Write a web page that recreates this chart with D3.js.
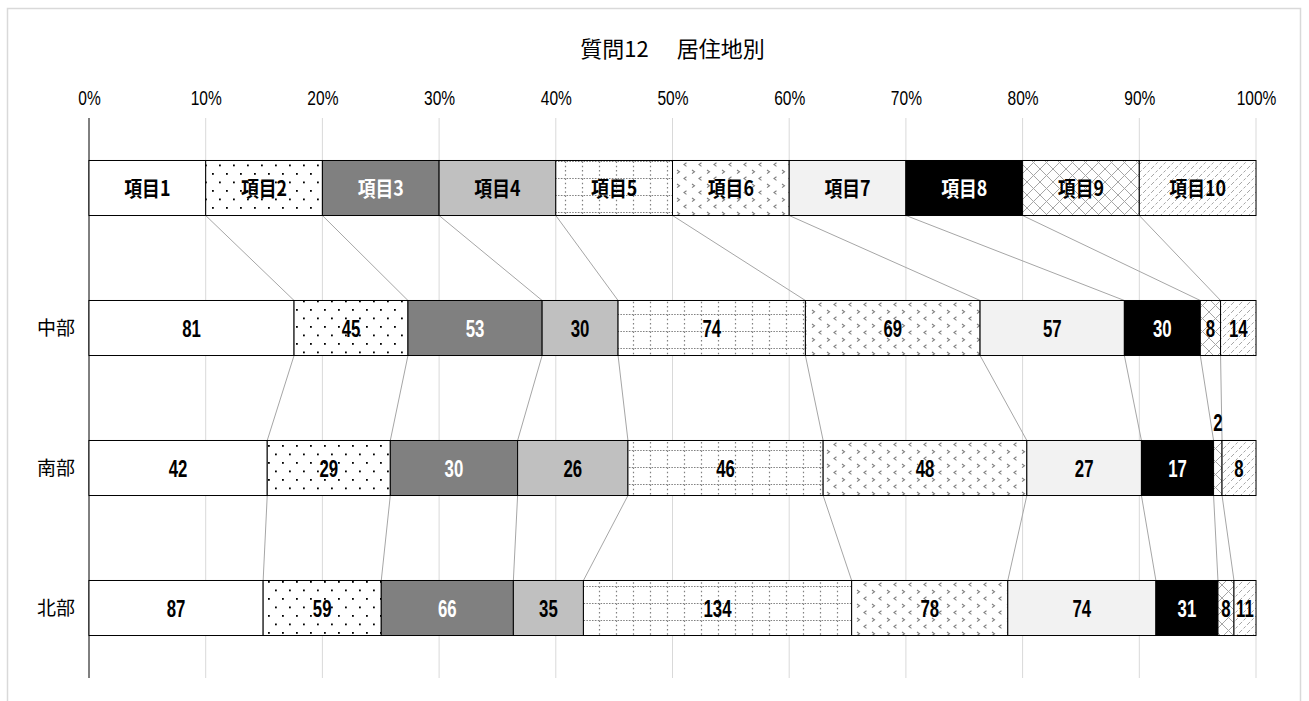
<!DOCTYPE html>
<html>
<head>
<meta charset="utf-8">
<script src="https://cdn.jsdelivr.net/npm/d3@7"></script>
<style>
  html, body { margin: 0; padding: 0; background: #fff; }
  svg { display: block; }
</style>
</head>
<body>
<svg id="chart" width="1309" height="701"></svg>
<script>
// Survey question 12, answers broken down by region of residence
const titleMain = "質問12";
const titleSub = "　居住地別";
const items = ["項目1", "項目2", "項目3", "項目4", "項目5", "項目6", "項目7", "項目8", "項目9", "項目10"];
const regions = ["中部", "南部", "北部"];
const chubu = [81, 45, 53, 30, 74, 69, 57, 30, 8, 14];
const nanbu = [42, 29, 30, 26, 46, 48, 27, 17, 2, 8];
const hokubu = [87, 59, 66, 35, 134, 78, 74, 31, 8, 11];
const tickLabels = ["0%", "10%", "20%", "30%", "40%", "50%", "60%", "70%", "80%", "90%", "100%"];

const seriesByRegion = [chubu, nanbu, hokubu];

const svg = d3.select("#chart");
const plot = { left: 89, right: 1256, top: 118, bottom: 678 };

const fontNum = "'Liberation Sans', Arial, 'DejaVu Sans', sans-serif";
const fontCJK = "'Noto Sans CJK JP', sans-serif";

// Text drawn horizontally condensed around its anchor point
function narrowText(g, tx, ty, str, opts) {
  return g.append("text")
    .attr("transform", `translate(${tx},${ty}) scale(${opts.sx},1)`)
    .attr("dy", "0.36em")
    .attr("text-anchor", "middle")
    .attr("font-family", opts.family)
    .attr("font-size", opts.size)
    .attr("font-weight", opts.weight || "normal")
    .attr("fill", opts.fill || "#000")
    .text(str);
}

// Outer chart frame
svg.append("rect")
  .attr("x", 7.5).attr("y", 8.5).attr("width", 1293).attr("height", 720)
  .attr("fill", "#fff").attr("stroke", "#d9d9d9").attr("stroke-width", 1.5);

// ---- fill patterns ----
const defs = svg.append("defs");
const grayPat = "#808080";

// item 2: staggered dots
const p2 = defs.append("pattern").attr("id", "pat2").attr("patternUnits", "userSpaceOnUse")
  .attr("width", 14).attr("height", 17);
p2.append("rect").attr("width", 14).attr("height", 17).attr("fill", "#fff");
p2.append("rect").attr("x", 2).attr("y", 3).attr("width", 1.8).attr("height", 1.8).attr("fill", "#000");
p2.append("rect").attr("x", 9).attr("y", 11.5).attr("width", 1.8).attr("height", 1.8).attr("fill", "#000");

// item 5: dotted grid
const p5 = defs.append("pattern").attr("id", "pat5").attr("patternUnits", "userSpaceOnUse")
  .attr("width", 17).attr("height", 17);
p5.append("rect").attr("width", 17).attr("height", 17).attr("fill", "#fff");
p5.append("line").attr("x1", 0).attr("x2", 17).attr("y1", 8.5).attr("y2", 8.5)
  .attr("stroke", grayPat).attr("stroke-width", 1.2).attr("stroke-dasharray", "1.5 1.3");
p5.append("line").attr("x1", 4.5).attr("x2", 4.5).attr("y1", 0).attr("y2", 17)
  .attr("stroke", grayPat).attr("stroke-width", 1.2).attr("stroke-dasharray", "1.5 2.75");

// item 6: small chevrons
const p6 = defs.append("pattern").attr("id", "pat6").attr("patternUnits", "userSpaceOnUse")
  .attr("width", 15).attr("height", 14);
p6.append("rect").attr("width", 15).attr("height", 14).attr("fill", "#fff");
p6.append("path").attr("d", "M2,2 L4.5,3.8 L2,5.6").attr("fill", "none").attr("stroke", grayPat).attr("stroke-width", 1.1);
p6.append("path").attr("d", "M11.5,8.8 L9,10.6 L11.5,12.4").attr("fill", "none").attr("stroke", grayPat).attr("stroke-width", 1.1);

// item 9: diagonal crosshatch
const p9 = defs.append("pattern").attr("id", "pat9").attr("patternUnits", "userSpaceOnUse")
  .attr("width", 13).attr("height", 13);
p9.append("rect").attr("width", 13).attr("height", 13).attr("fill", "#fff");
p9.append("path").attr("d", "M0,0 L13,13 M0,13 L13,0").attr("stroke", "#a6a6a6").attr("stroke-width", 1);

// item 10: dashed forward slashes
const p10 = defs.append("pattern").attr("id", "pat10").attr("patternUnits", "userSpaceOnUse")
  .attr("width", 8).attr("height", 8);
p10.append("rect").attr("width", 8).attr("height", 8).attr("fill", "#fff");
p10.append("path").attr("d", "M0,8 L8,0").attr("stroke", "#a6a6a6").attr("stroke-width", 1)
  .attr("stroke-dasharray", "3 2");

const fills = ["#ffffff", "url(#pat2)", "#808080", "#c0c0c0", "url(#pat5)",
               "url(#pat6)", "#f2f2f2", "#000000", "url(#pat9)", "url(#pat10)"];
const textColors = ["#000", "#000", "#fff", "#000", "#000", "#000", "#000", "#fff", "#000", "#000"];

// ---- scales ----
const x = d3.scaleLinear().domain([0, 1]).range([plot.left, plot.right]);
const rows = ["legend"].concat(regions);
const y = d3.scaleBand().domain(rows).range([plot.top, plot.bottom])
  .paddingInner(0.607).paddingOuter(0.3035);

// ---- gridlines ----
svg.append("g").selectAll("line")
  .data(d3.range(1, 11).map(i => i / 10))
  .join("line")
  .attr("x1", d => x(d)).attr("x2", d => x(d))
  .attr("y1", plot.top).attr("y2", plot.bottom)
  .attr("stroke", "#d9d9d9").attr("stroke-width", 1);

// ---- top percentage axis ----
const xAxis = d3.axisTop(x).tickValues(d3.range(0, 11).map(i => i / 10))
  .tickFormat((d, i) => tickLabels[i]).tickSize(0).tickPadding(0);
const axisG = svg.append("g").attr("transform", "translate(0,97)").call(xAxis);
axisG.select(".domain").remove();
axisG.selectAll(".tick text")
  .attr("y", 0).attr("dy", "0.36em")
  .attr("transform", "scale(0.74,1)")
  .attr("font-family", fontNum).attr("font-size", 21).attr("fill", "#000");

// vertical category axis line
svg.append("line")
  .attr("x1", plot.left).attr("x2", plot.left)
  .attr("y1", plot.top).attr("y2", plot.bottom)
  .attr("stroke", "#000").attr("stroke-width", 1);

// ---- stacked row data (shares of each row total) ----
function stackRow(values) {
  const total = d3.sum(values);
  let acc = 0;
  return values.map((v, i) => {
    const s = { i, v, x0: acc / total };
    acc += v;
    s.x1 = acc / total;
    return s;
  });
}
const legendValues = items.map(() => 1);
const rowData = [
  { key: "legend", segs: stackRow(legendValues), labels: items },
  ...regions.map((r, k) => ({ key: r, segs: stackRow(seriesByRegion[k]), labels: null }))
];

// ---- series connector lines between adjacent rows ----
const connG = svg.append("g");
for (let r = 0; r < rowData.length - 1; r++) {
  const a = rowData[r], b = rowData[r + 1];
  for (let k = 0; k < items.length - 1; k++) {
    connG.append("line")
      .attr("x1", x(a.segs[k].x1)).attr("y1", y(a.key) + y.bandwidth())
      .attr("x2", x(b.segs[k].x1)).attr("y2", y(b.key))
      .attr("stroke", "#a6a6a6").attr("stroke-width", 1);
  }
}

// ---- bars ----
rowData.forEach(row => {
  const g = svg.append("g");
  g.selectAll("rect")
    .data(row.segs)
    .join("rect")
    .attr("x", d => x(d.x0)).attr("y", y(row.key))
    .attr("width", d => x(d.x1) - x(d.x0)).attr("height", y.bandwidth())
    .attr("fill", d => fills[d.i])
    .attr("stroke", "#000").attr("stroke-width", 1);

  const isLegend = row.labels !== null;
  row.segs.forEach(d => {
    const w = x(d.x1) - x(d.x0);
    const cx = (x(d.x0) + x(d.x1)) / 2;
    const small = !isLegend && w < 12;
    const cy = small ? y(row.key) - 18 : y(row.key) + y.bandwidth() / 2;
    if (isLegend) {
      narrowText(g, cx, cy, row.labels[d.i],
        { sx: 0.85, family: fontCJK, size: 21, weight: "bold", fill: textColors[d.i] });
    } else {
      narrowText(g, cx, cy, d.v,
        { sx: 0.7, family: fontNum, size: 24, weight: "bold", fill: small ? "#000" : textColors[d.i] });
    }
  });
});

// ---- region labels ----
svg.append("g").selectAll("text")
  .data(regions)
  .join("text")
  .attr("x", 56).attr("y", d => y(d) + y.bandwidth() / 2)
  .attr("dy", "0.36em")
  .attr("text-anchor", "middle")
  .attr("font-family", fontCJK).attr("font-size", 19).attr("fill", "#000")
  .text(d => d);

// ---- title ----
const titleText = svg.append("text")
  .attr("x", (plot.left + plot.right) / 2).attr("y", 49)
  .attr("dy", "0.36em")
  .attr("text-anchor", "middle")
  .attr("font-family", fontCJK).attr("font-size", 22).attr("fill", "#000");
titleText.append("tspan").text(titleMain);
titleText.append("tspan").attr("dx", 6).text(titleSub);
</script>
</body>
</html>
